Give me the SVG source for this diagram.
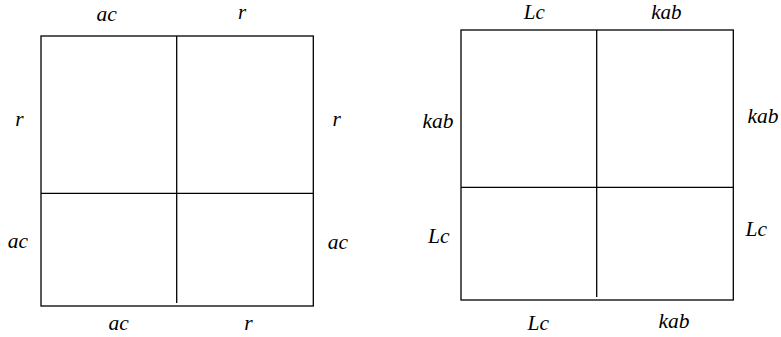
<svg xmlns="http://www.w3.org/2000/svg" width="781" height="337" viewBox="0 0 781 337">
<style>
.ln{stroke:#000;stroke-width:1.3;fill:none}
.lb{font-family:"Liberation Serif","Times New Roman",serif;font-style:italic;font-size:21.5px;fill:#000;text-anchor:middle}
.tp{font-size:21px}
</style>
<rect width="781" height="337" fill="#fff"/>
<g id="left-grid">
<rect class="ln" x="41" y="36" width="272.3" height="270"/>
<line class="ln" x1="176.7" y1="36" x2="176.7" y2="303"/>
<line class="ln" x1="41" y1="193.3" x2="313.3" y2="193.3"/>
</g>
<g id="left-labels">
<text class="lb" x="106.7" y="21">ac</text>
<text class="lb tp" x="242" y="19">r</text>
<text class="lb" x="19.5" y="126">r</text>
<text class="lb" x="336.7" y="125.5">r</text>
<text class="lb" x="17.8" y="248">ac</text>
<text class="lb" x="338" y="249">ac</text>
<text class="lb" x="118.7" y="330">ac</text>
<text class="lb" x="248.5" y="330">r</text>
</g>
<g id="right-grid">
<rect class="ln" x="461" y="30" width="272.3" height="270"/>
<line class="ln" x1="596.7" y1="30" x2="596.7" y2="297"/>
<line class="ln" x1="461" y1="187.3" x2="733.3" y2="187.3"/>
</g>
<g id="right-labels">
<text class="lb tp" x="534.3" y="19">Lc</text>
<text class="lb tp" x="666.3" y="19">kab</text>
<text class="lb" x="438" y="128.3">kab</text>
<text class="lb" x="763" y="122.7">kab</text>
<text class="lb" x="438.7" y="243.3">Lc</text>
<text class="lb" x="756.3" y="236">Lc</text>
<text class="lb" x="538.3" y="330">Lc</text>
<text class="lb" x="674" y="328.3">kab</text>
</g>
<g id="connectors"/>
</svg>
